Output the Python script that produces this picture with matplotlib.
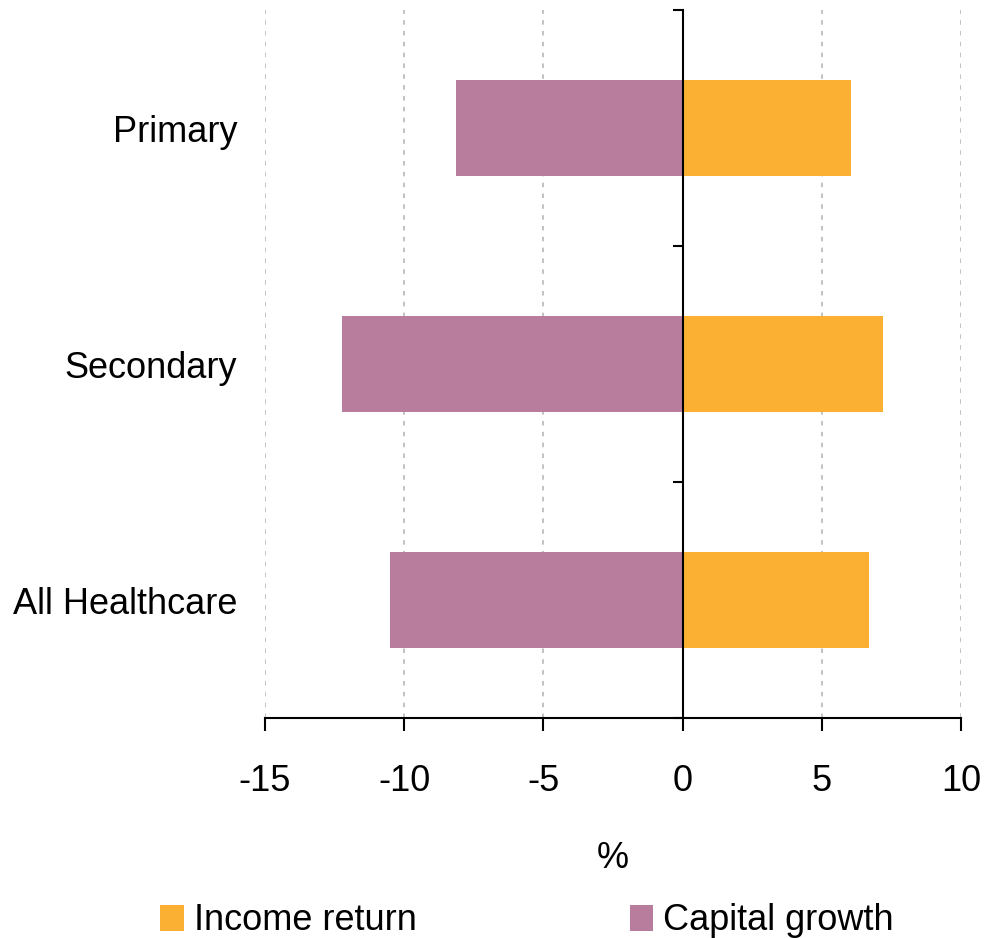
import matplotlib
matplotlib.use("Agg")
import matplotlib.pyplot as plt
from matplotlib.patches import Patch

plt.rcParams['font.family'] = ['Liberation Sans', 'DejaVu Sans']

categories = ["Primary", "Secondary", "All Healthcare"]
income_return = [6.05, 7.2, 6.7]
capital_growth = [-8.15, -12.25, -10.5]
series_names = ["Income return", "Capital growth"]
xticks = [-15, -10, -5, 0, 5, 10]

c_income = "#FBB034"
c_capital = "#B87C9C"
FS = 26

fig = plt.figure(figsize=(9.98, 9.38), dpi=100)
ax = fig.add_axes([0.2655, 0.2345, 0.6975, 0.7548])

y = list(range(len(categories)))
ax.barh(y, capital_growth, height=0.41, color=c_capital, zorder=3)
ax.barh(y, income_return, height=0.41, color=c_income, zorder=3)

ax.set_xlim(-15, 10)
ax.set_ylim(2.5, -0.5)
ax.set_xticks(xticks)
ax.set_xticklabels([f"{t:g}" for t in xticks])
ax.set_yticks(y)
ax.set_yticklabels(categories)

for s in ["top", "right", "left"]:
    ax.spines[s].set_visible(False)
ax.spines["bottom"].set_linewidth(1.5)
ax.tick_params(axis="y", length=0, pad=20, labelsize=FS)
ax.tick_params(axis="x", length=9, width=1.5, direction="out", pad=24, labelsize=FS)

for t in xticks:
    if t != 0:
        ax.axvline(t, color="#bdbdbd", linestyle=(0, (2.5, 3.5)), linewidth=1.3, zorder=1)

# zero axis with category separator ticks
sec = ax.secondary_yaxis(15 / 25)
sec.set_alignment("left")
sec.set_yticks([-0.5, 0.5, 1.5, 2.5])
sec.set_yticklabels([])
sec.tick_params(axis="y", length=7.5, width=1.5, direction="out")
for s in sec.spines.values():
    s.set_linewidth(1.5)
sec.set_zorder(4)

ax.set_xlabel("%", fontsize=FS, labelpad=30)

handles = [Patch(facecolor=c_income, edgecolor="none"), Patch(facecolor=c_capital, edgecolor="none")]
fig.legend(handles, series_names, loc="lower center", bbox_to_anchor=(0.528, -0.035), ncol=2,
           frameon=False, fontsize=FS, handlelength=0.64, handleheight=0.75,
           handletextpad=0.28, columnspacing=5.9)

fig.savefig("out.png", dpi=100)
